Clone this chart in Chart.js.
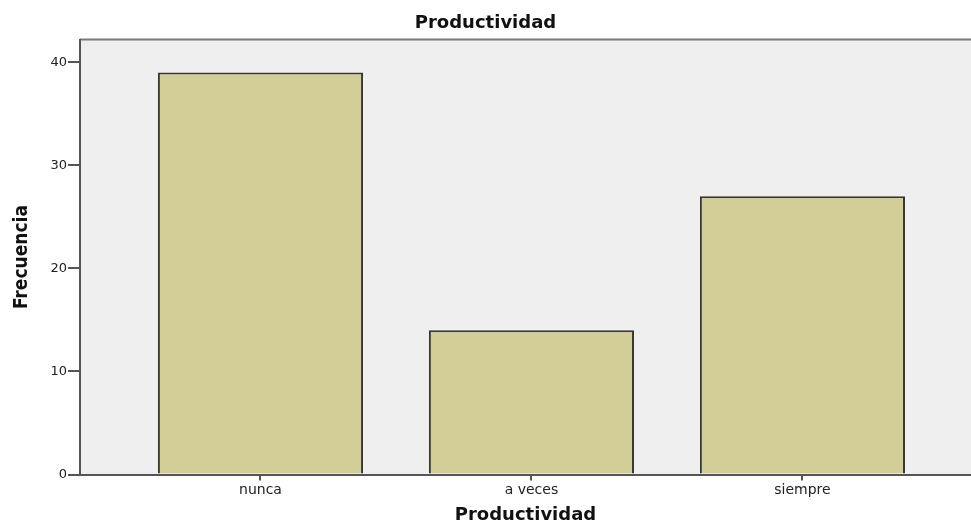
<!DOCTYPE html>
<html>
<head>
<meta charset="utf-8">
<script src="https://cdn.jsdelivr.net/npm/chart.js@4/dist/chart.umd.min.js"></script>
<style>
  html, body { margin: 0; padding: 0; background: #ffffff; }
  #wrap { width: 971px; height: 524px; position: relative; }
</style>
</head>
<body>
<div id="wrap"><canvas id="c" width="971" height="524"></canvas></div>
<script>
const categories = ['nunca', 'a veces', 'siempre'];
const frecuencia = [39, 14, 27];
const yTicks = [0, 10, 20, 30, 40];
const chartTitle = 'Productividad';
const xTitle = 'Productividad';
const yTitle = 'Frecuencia';

const plotBg = {
  id: 'plotBg',
  beforeDraw(chart) {
    const { ctx, chartArea: a } = chart;
    ctx.save();
    ctx.fillStyle = '#efefef';
    ctx.fillRect(a.left, a.top, a.right - a.left, a.bottom - a.top);
    ctx.strokeStyle = '#7a7a7a';
    ctx.lineWidth = 2;
    ctx.beginPath();
    ctx.moveTo(a.left, a.top);
    ctx.lineTo(a.right, a.top);
    ctx.stroke();
    ctx.restore();
  }
};

new Chart(document.getElementById('c'), {
  type: 'bar',
  data: {
    datasets: [{
      data: categories.map((c, i) => ({ x: i, y: frecuencia[i] })),
      backgroundColor: '#d3ce97',
      borderColor: '#38382e',
      borderWidth: 2,
      categoryPercentage: 1,
      barPercentage: 0.757
    }]
  },
  options: {
    responsive: false,
    animation: false,
    layout: { padding: 0 },
    plugins: {
      legend: { display: false },
      tooltip: { enabled: false },
      title: {
        display: true,
        text: chartTitle,
        color: '#111',
        font: { family: 'DejaVu Sans', size: 18, weight: 'bold', lineHeight: 1.2 },
        padding: { top: 13, bottom: 5 }
      }
    },
    scales: {
      x: {
        type: 'linear',
        offset: false,
        min: -0.666,
        max: 2.622,
        afterFit(scale) { scale.height = 49.5; },
        afterBuildTicks(scale) { scale.ticks = categories.map((c, i) => ({ value: i })); },
        ticks: {
          callback: (v) => categories[v],
          color: '#222',
          font: { family: 'DejaVu Sans', size: 14 },
          padding: 1,
          maxRotation: 0,
          autoSkip: false
        },
        grid: { display: true, offset: false, drawOnChartArea: false, drawTicks: true, tickLength: 6, color: '#555', lineWidth: 2 },
        border: { display: true, color: '#555', width: 2 },
        title: {
          display: true,
          text: xTitle,
          color: '#111',
          font: { family: 'DejaVu Sans', size: 18, weight: 'bold', lineHeight: 1 },
          padding: { top: 0, bottom: 0 }
        }
      },
      y: {
        type: 'linear',
        min: 0,
        max: 42.2,
        afterFit(scale) { scale.width = 80; },
        afterBuildTicks(scale) { scale.ticks = yTicks.map(v => ({ value: v })); },
        ticks: {
          color: '#222',
          font: { family: 'DejaVu Sans', size: 13 },
          padding: 1
        },
        grid: { display: true, drawOnChartArea: false, drawTicks: true, tickLength: 12, color: '#555', lineWidth: 2 },
        border: { display: true, color: '#555', width: 2 },
        title: {
          display: true,
          text: yTitle,
          color: '#111',
          font: { family: "'Liberation Sans Narrow', 'DejaVu Sans Condensed', sans-serif", size: 19, weight: 'bold', lineHeight: 1 },
          padding: { top: 13, bottom: 0 }
        }
      }
    }
  },
  plugins: [plotBg]
});
</script>
</body>
</html>
